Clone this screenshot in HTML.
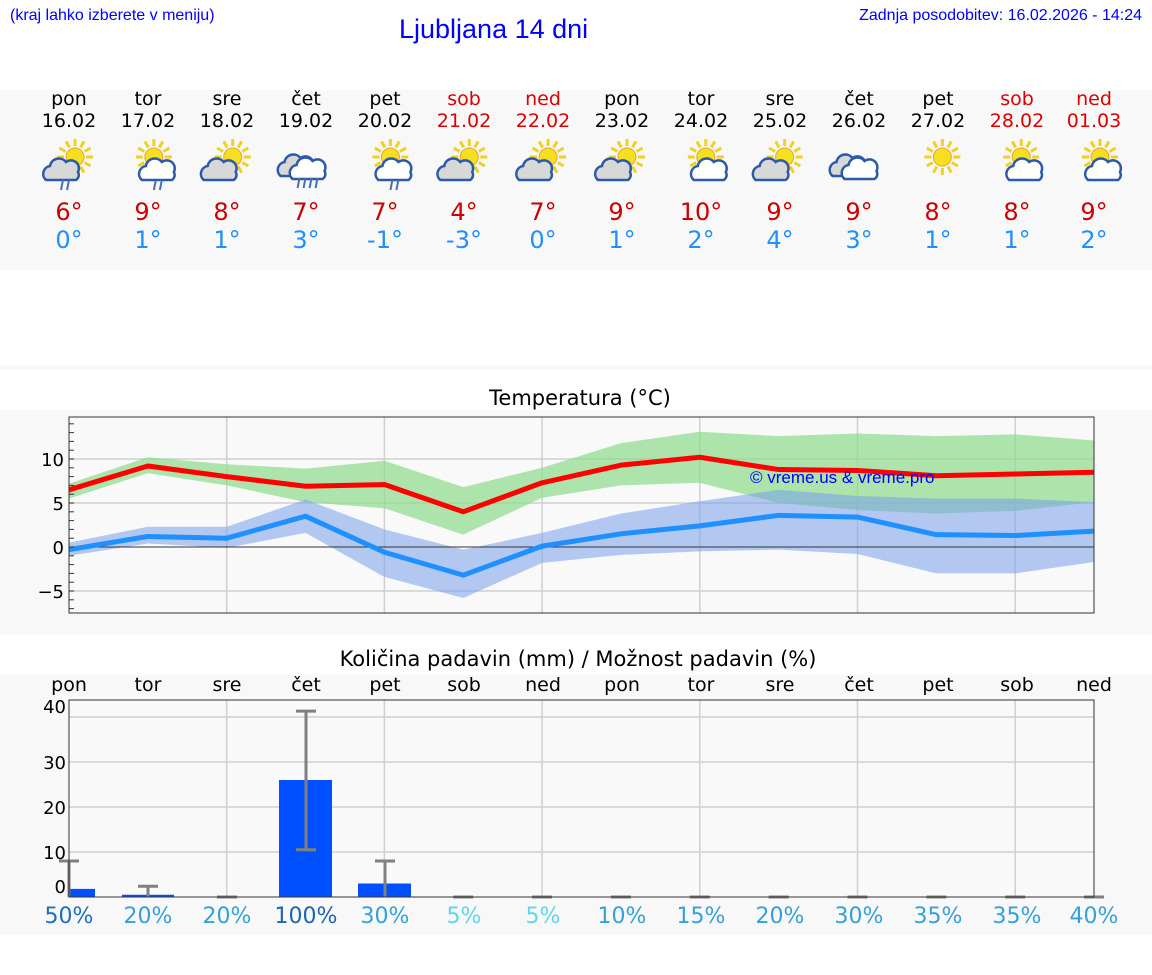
<!DOCTYPE html>
<html><head><meta charset="utf-8"><style>
body{margin:0;width:1152px;height:975px;background:#fff;font-family:"DejaVu Sans","Liberation Sans",sans-serif;position:relative;overflow:hidden}
.a{position:absolute;white-space:nowrap}
.c{position:absolute;transform:translateX(-50%);text-align:center;white-space:nowrap}
</style></head><body>
<div class="a" style="left:0;top:90px;width:1152px;height:180px;background:#f8f8f8"></div>
<div class="a" style="left:0;top:365px;width:1152px;height:5px;background:#f8f8f8"></div>
<div class="a" style="left:0;top:410px;width:1152px;height:225px;background:#f8f8f8"></div>
<div class="a" style="left:0;top:675px;width:1152px;height:260px;background:#f8f8f8"></div>
<div class="a" style="left:10px;top:7px;font-size:16px;color:#00f;font-family:'Liberation Sans',sans-serif">(kraj lahko izberete v meniju)</div>
<div class="a" style="left:399px;top:14px;font-size:27px;color:#00f;font-family:'Liberation Sans',sans-serif">Ljubljana 14 dni</div>
<div class="a" style="right:10px;top:7px;font-size:16px;color:#00f;font-family:'Liberation Sans',sans-serif">Zadnja posodobitev: 16.02.2026 - 14:24</div>

<div class="c" style="left:69px;top:88px;font-size:19px">pon<br>16.02</div>
<div class="c" style="left:148px;top:88px;font-size:19px">tor<br>17.02</div>
<div class="c" style="left:227px;top:88px;font-size:19px">sre<br>18.02</div>
<div class="c" style="left:306px;top:88px;font-size:19px">čet<br>19.02</div>
<div class="c" style="left:385px;top:88px;font-size:19px">pet<br>20.02</div>
<div class="c" style="left:464px;top:88px;font-size:19px;color:#d00">sob<br>21.02</div>
<div class="c" style="left:543px;top:88px;font-size:19px;color:#d00">ned<br>22.02</div>
<div class="c" style="left:622px;top:88px;font-size:19px">pon<br>23.02</div>
<div class="c" style="left:701px;top:88px;font-size:19px">tor<br>24.02</div>
<div class="c" style="left:780px;top:88px;font-size:19px">sre<br>25.02</div>
<div class="c" style="left:859px;top:88px;font-size:19px">čet<br>26.02</div>
<div class="c" style="left:938px;top:88px;font-size:19px">pet<br>27.02</div>
<div class="c" style="left:1017px;top:88px;font-size:19px;color:#d00">sob<br>28.02</div>
<div class="c" style="left:1094px;top:88px;font-size:19px;color:#d00">ned<br>01.03</div>

<div style="font-size:24px;color:#c00">
<div class="c" style="left:69px;top:198px">6°</div><div class="c" style="left:148px;top:198px">9°</div><div class="c" style="left:227px;top:198px">8°</div><div class="c" style="left:306px;top:198px">7°</div><div class="c" style="left:385px;top:198px">7°</div><div class="c" style="left:464px;top:198px">4°</div><div class="c" style="left:543px;top:198px">7°</div><div class="c" style="left:622px;top:198px">9°</div><div class="c" style="left:701px;top:198px">10°</div><div class="c" style="left:780px;top:198px">9°</div><div class="c" style="left:859px;top:198px">9°</div><div class="c" style="left:938px;top:198px">8°</div><div class="c" style="left:1017px;top:198px">8°</div><div class="c" style="left:1094px;top:198px">9°</div>
</div>
<div style="font-size:24px;color:#1e90ff">
<div class="c" style="left:69px;top:226px">0°</div><div class="c" style="left:148px;top:226px">1°</div><div class="c" style="left:227px;top:226px">1°</div><div class="c" style="left:306px;top:226px">3°</div><div class="c" style="left:385px;top:226px">-1°</div><div class="c" style="left:464px;top:226px">-3°</div><div class="c" style="left:543px;top:226px">0°</div><div class="c" style="left:622px;top:226px">1°</div><div class="c" style="left:701px;top:226px">2°</div><div class="c" style="left:780px;top:226px">4°</div><div class="c" style="left:859px;top:226px">3°</div><div class="c" style="left:938px;top:226px">1°</div><div class="c" style="left:1017px;top:226px">1°</div><div class="c" style="left:1094px;top:226px">2°</div>
</div>

<div class="c" style="left:580px;top:386px;font-size:21px">Temperatura (°C)</div>
<div class="c" style="left:578px;top:647px;font-size:21px">Količina padavin (mm) / Možnost padavin (%)</div>

<div style="font-size:19px">
<div class="c" style="left:69px;top:674px">pon</div><div class="c" style="left:148px;top:674px">tor</div><div class="c" style="left:227px;top:674px">sre</div><div class="c" style="left:306px;top:674px">čet</div><div class="c" style="left:385px;top:674px">pet</div><div class="c" style="left:464px;top:674px">sob</div><div class="c" style="left:543px;top:674px">ned</div><div class="c" style="left:622px;top:674px">pon</div><div class="c" style="left:701px;top:674px">tor</div><div class="c" style="left:780px;top:674px">sre</div><div class="c" style="left:859px;top:674px">čet</div><div class="c" style="left:938px;top:674px">pet</div><div class="c" style="left:1017px;top:674px">sob</div><div class="c" style="left:1094px;top:674px">ned</div>
</div>
<div style="font-size:22px">
<div class="c" style="left:69px;top:904px;color:#1f6fbf">50%</div><div class="c" style="left:148px;top:904px;color:#36a0d8">20%</div><div class="c" style="left:227px;top:904px;color:#36a0d8">20%</div><div class="c" style="left:306px;top:904px;color:#1e64b4">100%</div><div class="c" style="left:385px;top:904px;color:#36a0d8">30%</div><div class="c" style="left:464px;top:904px;color:#5fd6ea">5%</div><div class="c" style="left:543px;top:904px;color:#5fd6ea">5%</div><div class="c" style="left:622px;top:904px;color:#36a0d8">10%</div><div class="c" style="left:701px;top:904px;color:#36a0d8">15%</div><div class="c" style="left:780px;top:904px;color:#36a0d8">20%</div><div class="c" style="left:859px;top:904px;color:#36a0d8">30%</div><div class="c" style="left:938px;top:904px;color:#36a0d8">35%</div><div class="c" style="left:1017px;top:904px;color:#36a0d8">35%</div><div class="c" style="left:1094px;top:904px;color:#36a0d8">40%</div>
</div>

<svg class="a" style="left:0;top:0" width="1152" height="975" id="s">
<g font-size="18" fill="#000" text-anchor="end">
<text x="64" y="466">10</text><text x="64" y="510">5</text><text x="64" y="554">0</text><text x="64" y="598">−5</text>
<text x="66" y="713">40</text><text x="66" y="769">30</text><text x="66" y="814">20</text><text x="66" y="859">10</text><text x="66" y="893">0</text>
</g>
</svg>
<div class="a" style="left:750px;top:468px;font-size:17px;color:#0000ff;font-family:'Liberation Sans',sans-serif">© vreme.us &amp; vreme.pro</div>
<script>
var s=document.getElementById('s'),NS='http://www.w3.org/2000/svg';
function el(t,a){var e=document.createElementNS(NS,t);for(var k in a)e.setAttribute(k,a[k]);s.appendChild(e);return e;}
function X(i){return 69+i*78.85}
function Y(t){return 547-8.8*t}
var L=69,R=1094;
el('rect',{x:L,y:417,width:R-L,height:196,fill:'#f9f9f9'});
el('rect',{x:L,y:700,width:R-L,height:197,fill:'#f9f9f9'});
[10,5,-5].forEach(function(t){el('line',{x1:L,x2:R,y1:Y(t),y2:Y(t),stroke:'#d0d0d0','stroke-width':1.5})});
[40,30,20,10].forEach(function(v){var y=897-4.5*v;el('line',{x1:L,x2:R,y1:y,y2:y,stroke:'#d0d0d0','stroke-width':1.5})});
for(var i=2;i<14;i+=2){el('line',{x1:X(i),x2:X(i),y1:417,y2:613,stroke:'#d0d0d0','stroke-width':1.5});}
for(var i=2;i<14;i+=2){el('line',{x1:X(i),x2:X(i),y1:700,y2:897,stroke:'#d0d0d0','stroke-width':1.5});}
function band(u,l,c){var p=u.map(function(v,i){return X(i)+','+Y(v)});for(var i=l.length-1;i>=0;i--)p.push(X(i)+','+Y(l[i]));el('polygon',{points:p.join(' '),fill:c});}
band([7.2,10.2,9.4,8.9,9.8,6.8,9,11.8,13.1,12.6,12.9,12.6,12.8,12.1],[5.5,8.4,7.0,5.1,4.4,1.4,5.6,7.0,7.3,5.0,4.2,3.8,4.1,5.1],'rgba(140,220,140,0.7)');
band([0.5,2.3,2.3,5.4,2.0,-0.3,1.6,3.8,5.2,6.5,5.8,5.5,5.5,5.1],[-1.0,0.4,-0.1,1.6,-3.4,-5.8,-1.8,-0.9,-0.5,-0.3,-0.8,-3.0,-3.0,-1.7],'rgba(120,160,235,0.55)');
el('line',{x1:L,x2:R,y1:Y(0),y2:Y(0),stroke:'#333','stroke-width':1});
function line(a,c){el('polyline',{points:a.map(function(v,i){return X(i)+','+Y(v)}).join(' '),fill:'none',stroke:c,'stroke-width':5,'stroke-linejoin':'round'});}
line([6.5,9.2,8,6.9,7.1,4,7.3,9.3,10.2,8.8,8.7,8.1,8.3,8.5],'#ff0000');
line([-0.3,1.2,1.0,3.5,-0.6,-3.2,0.1,1.5,2.4,3.6,3.4,1.4,1.3,1.8],'#1e90ff');
el('rect',{x:L,y:417,width:R-L,height:196,fill:'none',stroke:'#333','stroke-width':1});
for(var t=-7;t<=14;t++){el('line',{x1:L,x2:L+5,y1:Y(t),y2:Y(t),stroke:'#333'});}
var bars=[[69,95,1.8],[122,174,0.5],[279,332,26],[358,411,3]];
bars.forEach(function(b){el('rect',{x:b[0],y:897-4.5*b[2],width:b[1]-b[0],height:4.5*b[2],fill:'#0050ff'})});
var errs=[[69,0,8],[148,0,2.4],[227,0,0],[306,10.5,41.3],[385,0,8]];
for(var i=5;i<14;i++)errs.push([X(i),0,0]);
errs.forEach(function(e){var a=897-4.5*e[1],b=897-4.5*e[2];el('line',{x1:e[0],x2:e[0],y1:a,y2:b,stroke:'#808080','stroke-width':3});el('line',{x1:e[0]-10,x2:e[0]+10,y1:b,y2:b,stroke:'#808080','stroke-width':3});if(e[1]>0)el('line',{x1:e[0]-10,x2:e[0]+10,y1:a,y2:a,stroke:'#808080','stroke-width':3});});
el('rect',{x:L,y:700,width:R-L,height:197,fill:'none',stroke:'#333','stroke-width':1});
var types=[1,2,3,4,2,3,3,3,5,3,7,6,5,5];
function sun(cx,cy,r){for(var k=0;k<12;k++){var a=k*Math.PI/6;el('line',{x1:cx+Math.cos(a)*(r+2),y1:cy+Math.sin(a)*(r+2),x2:cx+Math.cos(a)*(r+9),y2:cy+Math.sin(a)*(r+9),stroke:'#f0d020','stroke-width':3});}el('circle',{cx:cx,cy:cy,r:r,fill:'#f5e020',stroke:'#f0a030','stroke-width':1});}
function cloud(cx,cy,w,f){var g='M'+(cx-w/2)+','+(cy+8)+' a8,8 0 0,1 4,-14 a9,9 0 0,1 16,-4 a8,8 0 0,1 12,10 a6,6 0 0,1 -2,8 z';el('path',{d:g,fill:f,stroke:'#2a5aa8','stroke-width':2.5});}
function rain(cx,cy,n){for(var k=0;k<n;k++)el('line',{x1:cx+k*6,y1:cy,x2:cx+k*6-2,y2:cy+10,stroke:'#4a70b0','stroke-width':2});}
types.forEach(function(t,i){var cx=X(i);if(i==13)cx=1094;
 if(t==4||t==7){cloud(cx-8,168,34,'#d8d8d8');cloud(cx+4,171,34,'#fff');if(t==4)rain(cx-6,178,4);return;}
 sun(cx+6,157,9);
 if(t==6)return;
 if(t==1||t==3)cloud(cx-8,172,30,'#d8d8d8');else cloud(cx+8,172,28,'#fff');
 if(t==1)rain(cx-6,180,2);if(t==2)rain(cx+8,180,2);
});
</script>
</body></html>
